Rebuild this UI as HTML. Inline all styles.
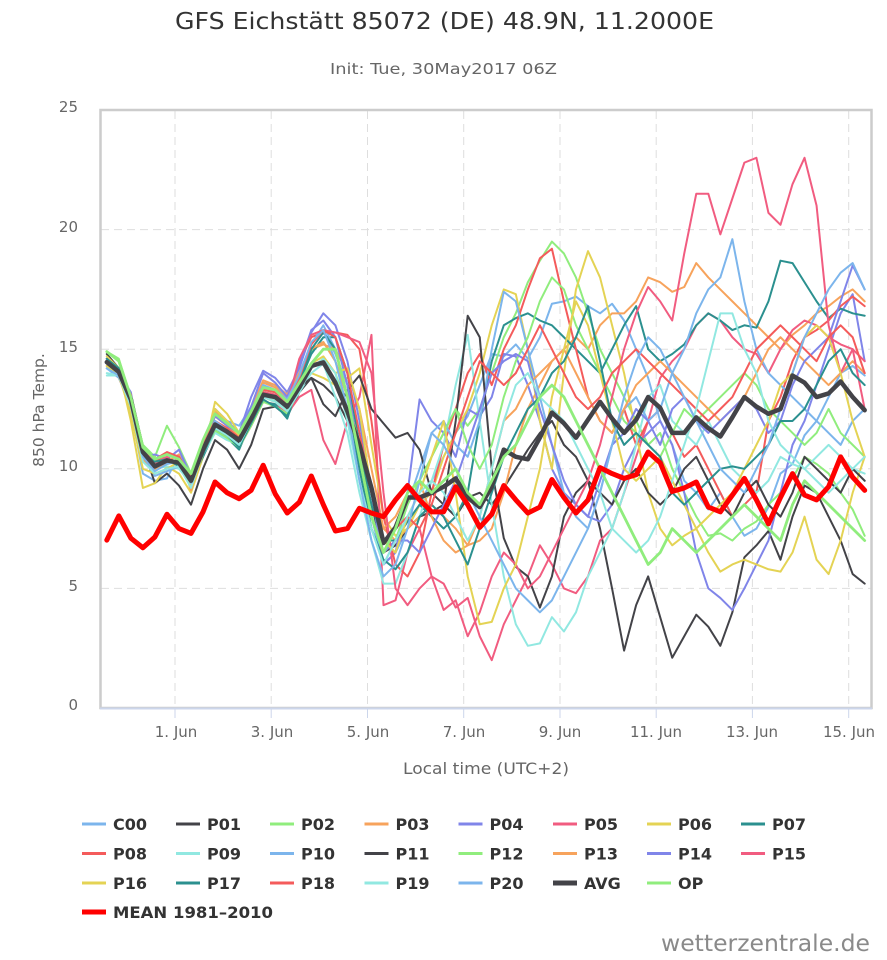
<!DOCTYPE html>
<html><head><meta charset="utf-8">
<style>
html,body{margin:0;padding:0;background:#fff;}
svg{display:block;}
.s polyline{fill:none;vector-effect:non-scaling-stroke;stroke-linejoin:round;stroke-linecap:round;stroke-width:2;}
.t{font-family:"DejaVu Sans","Liberation Sans",sans-serif;}
.lg text{font-family:"DejaVu Sans","Liberation Sans",sans-serif;font-weight:bold;font-size:16px;fill:#333;}
</style></head>
<body>
<svg width="887" height="960" viewBox="0 0 887 960" xmlns="http://www.w3.org/2000/svg">
<rect x="0" y="0" width="887" height="960" fill="#fff"/>
<!-- titles -->
<text class="t" x="444.5" y="29" text-anchor="middle" font-size="23" fill="#333" textLength="539" lengthAdjust="spacingAndGlyphs">GFS Eichstätt 85072 (DE) 48.9N, 11.2000E</text>
<text class="t" x="443.5" y="74" text-anchor="middle" font-size="15" fill="#666" textLength="227" lengthAdjust="spacingAndGlyphs">Init: Tue, 30May2017 06Z</text>

<!-- grid -->
<g stroke="#dedede" stroke-width="1" stroke-dasharray="8,5">
<line x1="101" y1="229.6" x2="871" y2="229.6"/>
<line x1="101" y1="349.2" x2="871" y2="349.2"/>
<line x1="101" y1="468.8" x2="871" y2="468.8"/>
<line x1="101" y1="588.4" x2="871" y2="588.4"/>
<line x1="175" y1="111" x2="175" y2="707"/>
<line x1="271.2" y1="111" x2="271.2" y2="707"/>
<line x1="367.5" y1="111" x2="367.5" y2="707"/>
<line x1="463.7" y1="111" x2="463.7" y2="707"/>
<line x1="560" y1="111" x2="560" y2="707"/>
<line x1="656.2" y1="111" x2="656.2" y2="707"/>
<line x1="752.4" y1="111" x2="752.4" y2="707"/>
<line x1="848.7" y1="111" x2="848.7" y2="707"/>
</g>
<rect x="100.5" y="110" width="771" height="598" fill="none" stroke="#cccccc" stroke-width="2.5"/>
<line x1="100" y1="708.5" x2="872" y2="708.5" stroke="#ccd6eb" stroke-width="2"/>
<g stroke="#ccd6eb" stroke-width="1">
<line x1="175" y1="708" x2="175" y2="718"/>
<line x1="271.2" y1="708" x2="271.2" y2="718"/>
<line x1="367.5" y1="708" x2="367.5" y2="718"/>
<line x1="463.7" y1="708" x2="463.7" y2="718"/>
<line x1="560" y1="708" x2="560" y2="718"/>
<line x1="656.2" y1="708" x2="656.2" y2="718"/>
<line x1="752.4" y1="708" x2="752.4" y2="718"/>
<line x1="848.7" y1="708" x2="848.7" y2="718"/>
</g>

<!-- axis labels -->
<g class="t" font-size="15" fill="#666" text-anchor="end">
<text x="78" y="112">25</text>
<text x="78" y="232">20</text>
<text x="78" y="352">15</text>
<text x="78" y="471">10</text>
<text x="78" y="591">5</text>
<text x="78" y="710">0</text>
</g>
<g class="t" font-size="15" fill="#666" text-anchor="middle">
<text x="176" y="737">1. Jun</text>
<text x="272" y="737">3. Jun</text>
<text x="368" y="737">5. Jun</text>
<text x="464" y="737">7. Jun</text>
<text x="560" y="737">9. Jun</text>
<text x="656" y="737">11. Jun</text>
<text x="752" y="737">13. Jun</text>
<text x="849" y="737">15. Jun</text>
</g>
<text class="t" x="486" y="774" text-anchor="middle" font-size="16" fill="#666" textLength="166" lengthAdjust="spacingAndGlyphs">Local time (UTC+2)</text>
<text class="t" transform="translate(44 410) rotate(-90)" text-anchor="middle" font-size="15.5" fill="#666">850 hPa Temp.</text>

<!-- series -->
<g class="s" transform="translate(106.8 708) scale(12.03 -23.92)">
<polyline stroke="#7cb5ec" points="0,14.2 1,13.9 2,12.5 3,9.8 4,9.5 5,9.6 6,10.6 7,9.8 8,11 9,12.4 10,12 11,11.8 12,12.6 13,13.6 14,13.5 15,13 16,14 17,15.2 18,15.8 19,14.8 20,13.5 21,11 22,8 23,6 24,6.5 25,7.5 26,8.5 27,9.5 28,10.5 29,11.5 30,12.2 31,13.5 32,14.8 33,14.7 34,15.2 35,14.6 36,15.5 37,16.9 38,17 39,17.2 40,16.8 41,16.5 42,16.9 43,16.2 44,15 45,13.8 46,12 47,11 48,9.5 49,9 50,8.3 51,9 52,8 53,7.2 54,7.5 55,8.4 56,9.8 57,10.2 58,11.4 59,12 60,13 61,14 62,14.3 63,13.9"/>
<polyline stroke="#434348" points="0,14.8 1,14.2 2,12.8 3,10.9 4,9.4 5,9.8 6,9.3 7,8.5 8,10 9,11.2 10,10.8 11,10 12,11 13,12.5 14,12.6 15,12.2 16,13.2 17,13.8 18,13.5 19,13 20,12 21,10.5 22,8.5 23,6.5 24,6.8 25,7.5 26,8 27,8.2 28,8.5 29,8 30,8.8 31,9 32,8.5 33,9.2 34,10 35,10.8 36,11.5 37,12 38,11 39,10.5 40,9.5 41,7.5 42,5 43,2.4 44,4.3 45,5.5 46,3.8 47,2.1 48,3 49,3.9 50,3.4 51,2.6 52,4 53,6.3 54,6.8 55,7.4 56,6.2 57,8 58,9.3 59,9 60,8 61,7 62,5.6 63,5.2"/>
<polyline stroke="#90ed7d" points="0,14.9 1,14.6 2,13 3,11 4,10.5 5,11.8 6,10.9 7,9.8 8,11.2 9,12.3 10,11.9 11,11.4 12,12.3 13,13.3 14,13.2 15,12.8 16,13.9 17,14.9 18,15.3 19,14.5 20,13 21,10.5 22,8 23,6.5 24,7 25,8 26,9 27,10.5 28,11.5 29,12.5 30,11.8 31,12.5 32,14 33,15.5 34,16.5 35,17.8 36,18.7 37,19.5 38,19 39,18 40,16.5 41,15 42,14 43,13 44,12 45,11 46,11.5 47,10 48,9 49,8 50,7.2 51,7.3 52,7 53,7.5 54,7.8 55,8.5 56,9 57,9.6 58,10.5 59,10.2 60,9.8 61,9 62,8.3 63,7.2"/>
<polyline stroke="#f7a35c" points="0,14.3 1,13.8 2,12.6 3,10.3 4,10 5,10.2 6,10.4 7,9.2 8,10.9 9,12.2 10,11.8 11,11.3 12,12.4 13,13.6 14,13.4 15,12.9 16,13.8 17,15 18,15.2 19,15 20,14 21,12.5 22,10 23,7.5 24,7 25,7.5 26,8 27,8.5 28,8 29,7.5 30,6.8 31,7 32,7.5 33,9 34,11 35,12.5 36,13.5 37,14.5 38,15 39,15.5 40,15 41,16 42,16.5 43,16.5 44,17 45,18 46,17.8 47,17.4 48,17.6 49,18.6 50,18 51,17.5 52,17 53,16.5 54,16 55,15.5 56,15 57,15.6 58,16 59,16.5 60,16.8 61,17.2 62,17.5 63,17"/>
<polyline stroke="#8085e9" points="0,14.6 1,14 2,13.2 3,10.5 4,10.6 5,10.4 6,10.8 7,9.7 8,11 9,12.5 10,12 11,11.5 12,13 13,14.1 14,13.8 15,13.2 16,14.2 17,15.7 18,16.5 19,16 20,14.5 21,12 22,9 23,6 24,6.5 25,9 26,12.9 27,12 28,11.5 29,10.5 30,12.5 31,12.2 32,13 33,14.8 34,14.7 35,13.5 36,12 37,10 38,9 39,8.5 40,8 41,7.8 42,8.5 43,10 44,11 45,11.5 46,12 47,11 48,9 49,6.5 50,5 51,4.6 52,4.1 53,5 54,6 55,7 56,9 57,11 58,12 59,13.5 60,15 61,16.5 62,17.3 63,14.5"/>
<polyline stroke="#f15c80" points="0,14.4 1,13.9 2,12.7 3,10.6 4,10.2 5,10.5 6,10.1 7,9.3 8,10.6 9,11.7 10,11.3 11,10.9 12,11.8 13,12.8 14,12.7 15,12.3 16,13 17,13.3 18,11.2 19,10.2 20,12 21,13 22,15.6 23,4.3 24,4.5 25,6.5 26,7.5 27,5.5 28,5.2 29,4.2 30,4.6 31,3 32,2 33,3.5 34,4.5 35,5.5 36,6.8 37,6 38,5 39,4.8 40,5.5 41,7 42,7.5 43,9 44,10.5 45,12 46,13.8 47,14.5 48,15 49,16 50,16.5 51,16.2 52,15.5 53,15 54,14.8 55,14 56,15 57,15.8 58,16.2 59,16 60,15.5 61,15.2 62,15 63,14.5"/>
<polyline stroke="#e4d354" points="0,14.7 1,14.2 2,12 3,9.2 4,9.4 5,10.1 6,9.8 7,9 8,10.5 9,12.8 10,12.3 11,11.5 12,12 13,13 14,12.8 15,12.6 16,13.5 17,14 18,13.8 19,13.5 20,13.8 21,14.2 22,11 23,8 24,7.2 25,7.5 26,8.5 27,9 28,10.5 29,11.5 30,12.5 31,14 32,16 33,17.5 34,17.3 35,15 36,12 37,10 38,14 39,17.5 40,19.1 41,18 42,16 43,14 44,11.5 45,9 46,7.5 47,6.8 48,7.2 49,7.5 50,6.5 51,5.7 52,6 53,6.2 54,6 55,5.8 56,5.7 57,6.5 58,8 59,6.2 60,5.6 61,7 62,9 63,10.5"/>
<polyline stroke="#2b908f" points="0,14.5 1,14 2,12.9 3,10.8 4,10.1 5,10.3 6,10.2 7,9.5 8,10.5 9,11.6 10,11.3 11,10.8 12,12 13,12.8 14,12.7 15,12.1 16,13.6 17,14.8 18,15.5 19,15.5 20,14 21,11 22,8.5 23,7 24,7 25,7.8 26,8.5 27,8 28,7.5 29,8 30,9 31,12 32,14.5 33,16 34,16.3 35,16.5 36,16.2 37,16 38,15.5 39,15 40,14.5 41,14 42,15 43,16 44,16.8 45,15 46,14.5 47,14.8 48,15.2 49,16 50,16.5 51,16.2 52,15.8 53,16 54,15.9 55,17 56,18.7 57,18.6 58,17.8 59,17 60,16.3 61,16.7 62,16.5 63,16.4"/>
<polyline stroke="#f45b5b" points="0,14.5 1,14.1 2,13 3,10.9 4,10.3 5,10.6 6,10.4 7,9.6 8,10.9 9,11.9 10,11.6 11,11.3 12,12.2 13,13.2 14,13.1 15,12.7 16,14.5 17,15.5 18,15.7 19,15.7 20,15.6 21,15 22,12 23,8 24,6 25,5.5 26,6.5 27,9 28,11 29,12.5 30,14 31,14.8 32,13.5 33,15 34,16 35,17.5 36,18.8 37,19.2 38,17 39,15 40,13 41,12 42,11.5 43,12.5 44,11 45,12 46,12.5 47,11.5 48,10.5 49,11 50,10 51,9 52,8 53,8.5 54,9 55,12 56,13 57,14.5 58,15.5 59,15.8 60,16.2 61,16.8 62,17.2 63,16.8"/>
<polyline stroke="#91e8e1" points="0,13.9 1,13.9 2,12.9 3,10.5 4,10 5,10.1 6,10 7,9.4 8,10.6 9,11.5 10,11.2 11,11 12,11.9 13,13 14,12.8 15,12.4 16,13.2 17,14 18,14.4 19,13 20,11.5 21,9 22,7 23,5.2 24,5.2 25,6.5 26,8 27,9.5 28,11 29,13.5 30,15.6 31,12 32,8.5 33,5.5 34,3.5 35,2.6 36,2.7 37,3.8 38,3.2 39,4 40,5.5 41,6.5 42,7.5 43,9 44,11 45,13 46,13.5 47,12 48,11.5 49,11 50,12 51,11 52,10 53,9.5 54,9 55,9.5 56,10.5 57,10.2 58,10 59,10.5 60,11 61,10.5 62,10 63,9.8"/>
<polyline stroke="#7cb5ec" points="0,14.2 1,13.8 2,12.7 3,10.5 4,9.7 5,9.9 6,10.1 7,9.3 8,10.7 9,11.8 10,11.5 11,11.1 12,12.3 13,13.4 14,13.2 15,12.8 16,13.8 17,15.2 18,16 19,15 20,13 21,10 22,7.5 23,6 24,7 25,8.5 26,10 27,11.5 28,12 29,11 30,10.5 31,12 32,15 33,17.4 34,17 35,15 36,13 37,11 38,9 39,8 40,7.5 41,9 42,11 43,12.5 44,13 45,12 46,12.5 47,14 48,15 49,16.5 50,17.5 51,18 52,19.6 53,17 54,15 55,14 56,13.5 57,13 58,12.5 59,12 60,11.5 61,11 62,12 63,12.5"/>
<polyline stroke="#434348" points="0,14.6 1,14.1 2,12.9 3,10.7 4,10.1 5,10.4 6,10.3 7,9.5 8,10.8 9,11.9 10,11.5 11,11.1 12,12.1 13,13.1 14,12.9 15,12.5 16,13.4 17,13.8 18,12.7 19,12.2 20,13.3 21,13.9 22,12.5 23,11.9 24,11.3 25,11.5 26,10.8 27,9 28,8.5 29,12 30,16.4 31,15.5 32,10 33,7.1 34,5.9 35,5.5 36,4.2 37,5.5 38,8 39,9 40,9.5 41,9 42,8.5 43,9.5 44,10 45,9 46,8.5 47,9 48,10 49,10.5 50,9.5 51,8.5 52,8 53,9 54,9.5 55,8.5 56,8 57,9 58,10.5 59,10 60,9.5 61,9 62,10 63,9.5"/>
<polyline stroke="#90ed7d" points="0,14.4 1,14.1 2,13 3,10.6 4,10.2 5,10.4 6,10.3 7,9.4 8,10.7 9,11.6 10,11.3 11,10.9 12,11.8 13,12.8 14,12.6 15,12.3 16,13.3 17,14.2 18,14.6 19,14 20,12.5 21,10 22,8 23,6.5 24,7 25,8.5 26,9.5 27,10.5 28,11.5 29,12.5 30,11 31,10 32,11 33,13 34,14.5 35,15.5 36,17 37,18 38,17.5 39,16 40,15 41,14 42,13 43,12 44,11.5 45,11 46,10.5 47,11.5 48,12.5 49,12 50,12.5 51,13 52,13.5 53,14 54,13.5 55,12.5 56,12 57,11.5 58,11 59,11.5 60,12.5 61,11.5 62,11 63,10.5"/>
<polyline stroke="#f7a35c" points="0,14.3 1,13.9 2,12.6 3,10.4 4,10 5,10.3 6,10.6 7,9.1 8,10.9 9,12.4 10,11.9 11,11.4 12,12.5 13,13.7 14,13.5 15,13.1 16,14 17,15 18,15.3 19,14.5 20,13 21,11 22,9 23,7.5 24,8 25,9 26,9.5 27,8 28,7 29,6.5 30,6.8 31,8 32,10 33,12 34,12.5 35,13.5 36,14 37,14.5 38,15 39,14 40,13 41,12 42,11.5 43,12.5 44,13.5 45,14 46,14.5 47,14 48,13.5 49,13 50,12.5 51,12 52,12.5 53,13 54,14 55,15 56,15.5 57,15 58,14.5 59,14 60,13.5 61,14 62,14.5 63,14"/>
<polyline stroke="#8085e9" points="0,14.6 1,14.1 2,13.1 3,10.8 4,10.4 5,10.6 6,10.5 7,9.6 8,11 9,12.2 10,11.8 11,11.5 12,12.6 13,14 14,13.6 15,13 16,14.3 17,15.8 18,16.2 19,15.5 20,13.5 21,10.5 22,8 23,6.5 24,7 25,7 26,6.5 27,7.5 28,8.5 29,9.5 30,11 31,12.5 32,14 33,14.5 34,14.8 35,14.5 36,12.5 37,11 38,9.5 39,8.5 40,8 41,9.5 42,11 43,11.5 44,12.5 45,12 46,11 47,12.5 48,13 49,12 50,11.5 51,12 52,12.5 53,13 54,12.5 55,11.5 56,12 57,13.5 58,14.5 59,15 60,15.5 61,17 62,18.5 63,17.5"/>
<polyline stroke="#f15c80" points="0,14.5 1,14 2,12.8 3,10.6 4,10.2 5,10.4 6,10.2 7,9.4 8,10.9 9,11.8 10,11.5 11,11.2 12,12 13,13.2 14,13.1 15,12.7 16,14.6 17,15.6 18,15.8 19,15.7 20,15.5 21,15.3 22,14 23,9 24,5 25,4.3 26,5 27,5.5 28,4.1 29,4.5 30,3 31,4 32,5.5 33,6.5 34,6 35,5 36,5.5 37,6.5 38,7.5 39,8.5 40,9.5 41,11 42,13 43,15 44,16.5 45,17.6 46,17 47,16.2 48,19 49,21.5 50,21.5 51,19.8 52,21.3 53,22.8 54,23 55,20.7 56,20.2 57,21.9 58,23 59,21 60,16 61,14 62,15 63,12.5"/>
<polyline stroke="#e4d354" points="0,14.3 1,13.9 2,12.3 3,10 4,9.8 5,10 6,10.3 7,9.3 8,10.6 9,12.5 10,12 11,11.4 12,12.2 13,13.1 14,12.9 15,12.4 16,13.4 17,14.4 18,14.7 19,14 20,14.2 21,12.5 22,9 23,7 24,6.5 25,8 26,9 27,10.5 28,12 29,9 30,5.5 31,3.5 32,3.6 33,5 34,6 35,8 36,10 37,13 38,15 39,17 40,16 41,14 42,12 43,10 44,9.5 45,10 46,10.5 47,9.5 48,8.5 49,7.5 50,8 51,8.5 52,9 53,10 54,11 55,12 56,13.5 57,14 58,15.5 59,16 60,15.5 61,14 62,12 63,10.5"/>
<polyline stroke="#2b908f" points="0,14.6 1,14.2 2,13 3,10.9 4,10.3 5,10.4 6,10.1 7,9.6 8,10.6 9,11.7 10,11.4 11,10.9 12,11.9 13,12.9 14,12.6 15,12.2 16,13.6 17,15 18,15.7 19,15 20,13 21,10 22,7.5 23,6.2 24,5.8 25,6.5 26,8 27,8.5 28,8 29,7 30,6 31,7.5 32,9 33,10.5 34,11.5 35,12.5 36,13 37,14 38,14.5 39,15.5 40,16.8 41,14.5 42,12 43,11 44,11.5 45,11 46,10.5 47,9 48,8.5 49,9 50,9.5 51,10 52,10.1 53,10 54,10.5 55,11 56,12 57,12 58,12.5 59,13.5 60,14.5 61,15 62,14 63,13.5"/>
<polyline stroke="#f45b5b" points="0,14.5 1,14 2,13.1 3,10.7 4,10.4 5,10.7 6,10.5 7,9.7 8,11 9,12 10,11.7 11,11.3 12,12.3 13,13.3 14,13.2 15,12.8 16,13.8 17,15.2 18,15.8 19,15.5 20,14 21,11.5 22,9 23,7 24,7.5 25,8 26,7.5 27,8.5 28,10 29,11.5 30,13 31,14.5 32,14 33,13.5 34,14 35,15 36,16 37,15 38,14 39,13 40,12.5 41,13 42,14 43,14.5 44,15 45,14.5 46,14 47,13.5 48,13 49,12.5 50,12 51,12.5 52,13 53,14 54,15 55,15.5 56,16 57,15.5 58,15 59,14.5 60,15.5 61,16 62,15.5 63,14"/>
<polyline stroke="#91e8e1" points="0,14 1,13.9 2,12.6 3,10.3 4,9.8 5,10 6,10.1 7,9.2 8,10.7 9,11.7 10,11.4 11,11 12,12 13,13.1 14,12.9 15,12.4 16,13.2 17,14.2 18,14.6 19,14 20,12 21,9.5 22,7.5 23,6 24,7 25,8 26,9 27,9.5 28,9 29,8 30,7 31,8 32,10 33,12 34,13.5 35,14 36,13 37,12.5 38,12 39,11 40,10 41,9 42,7.5 43,7 44,6.5 45,7 46,8 47,9.5 48,11 49,12.5 50,14.5 51,16.5 52,16.5 53,15 54,14 55,12 56,11 57,10.5 58,10 59,9.5 60,9 61,9.5 62,10 63,10.5"/>
<polyline stroke="#7cb5ec" points="0,14.2 1,13.9 2,12.8 3,10.5 4,9.9 5,10.2 6,10.3 7,9.4 8,10.8 9,12 10,11.6 11,11.2 12,12.4 13,13.5 14,13.3 15,12.9 16,13.9 17,15.3 18,15.8 19,14.5 20,12.5 21,9.5 22,7 23,5.5 24,6 25,7.5 26,9.5 27,11.5 28,11 29,10 30,9 31,8 32,7 33,6 34,5 35,4.5 36,4 37,4.5 38,5.5 39,6.5 40,7.5 41,9 42,11 43,13 44,14.5 45,15.5 46,15 47,14 48,13 49,12 50,11 51,10 52,9.5 53,9 54,10 55,11 56,12.5 57,14 58,15.5 59,16.5 60,17.5 61,18.2 62,18.6 63,17.5"/>
<!-- AVG -->
<polyline stroke="#434348" style="stroke-width:4.5" points="0,14.46 1,14.05 2,12.9 3,10.7 4,10.1 5,10.35 6,10.25 7,9.5 8,10.8 9,11.85 10,11.55 11,11.2 12,12.1 13,13.1 14,13 15,12.6 16,13.4 17,14.3 18,14.45 19,13.6 20,12.4 21,11 22,9.2 23,6.9 24,7.55 25,8.8 26,8.8 27,9 28,9.25 29,9.6 30,8.8 31,8.4 32,9.25 33,10.8 34,10.5 35,10.4 36,11.3 37,12.35 38,11.9 39,11.3 40,12.05 41,12.8 42,12.1 43,11.5 44,12.05 45,13 46,12.55 47,11.5 48,11.5 49,12.15 50,11.7 51,11.35 52,12.15 53,13 54,12.6 55,12.3 56,12.5 57,13.9 58,13.6 59,13 60,13.15 61,13.65 62,13 63,12.45"/>
<!-- OP -->
<polyline stroke="#90ed7d" style="stroke-width:2.8" points="0,14.9 1,14.5 2,13 3,10.9 4,10.4 5,10.6 6,10.4 7,9.8 8,11.2 9,12.3 10,11.9 11,11.5 12,12.4 13,13.4 14,13.3 15,12.8 16,13.6 17,14.4 18,15 19,15 20,13 21,10.5 22,8 23,6.5 24,7.5 25,9 26,9.5 27,9 28,9.5 29,10 30,9 31,8.5 32,9.5 33,10.5 34,11 35,12 36,13 37,13.5 38,13 39,12 40,11 41,10 42,9 43,8 44,7 45,6 46,6.5 47,7.5 48,7 49,6.5 50,7 51,7.5 52,8 53,8.5 54,8 55,7.5 56,7 57,8.5 58,9.5 59,9 60,8.5 61,8 62,7.5 63,7"/>
<!-- MEAN -->
<polyline stroke="#ff0000" style="stroke-width:5" points="0,7.02 1,8.03 2,7.1 3,6.7 4,7.15 5,8.1 6,7.5 7,7.3 8,8.2 9,9.45 10,9 11,8.75 12,9.1 13,10.15 14,8.95 15,8.15 16,8.6 17,9.7 18,8.5 19,7.4 20,7.5 21,8.35 22,8.15 23,8 24,8.7 25,9.3 26,8.7 27,8.2 28,8.2 29,9.25 30,8.5 31,7.55 32,8.1 33,9.3 34,8.7 35,8.15 36,8.4 37,9.55 38,8.8 39,8.15 40,8.7 41,10.05 42,9.8 43,9.6 44,9.75 45,10.7 46,10.25 47,9.05 48,9.2 49,9.45 50,8.4 51,8.2 52,8.9 53,9.6 54,8.7 55,7.7 56,8.8 57,9.8 58,8.9 59,8.7 60,9.25 61,10.5 62,9.65 63,9.1"/>
</g>

<!-- legend -->
<g class="lg">
<g stroke-width="3" stroke-linecap="butt">
<line x1="82" y1="824" x2="106" y2="824" stroke="#7cb5ec"/>
<line x1="176" y1="824" x2="200" y2="824" stroke="#434348"/>
<line x1="270" y1="824" x2="294" y2="824" stroke="#90ed7d"/>
<line x1="364.5" y1="824" x2="388.5" y2="824" stroke="#f7a35c"/>
<line x1="458.5" y1="824" x2="482.5" y2="824" stroke="#8085e9"/>
<line x1="553" y1="824" x2="577" y2="824" stroke="#f15c80"/>
<line x1="647" y1="824" x2="671" y2="824" stroke="#e4d354"/>
<line x1="741" y1="824" x2="765" y2="824" stroke="#2b908f"/>
<line x1="82" y1="853.5" x2="106" y2="853.5" stroke="#f45b5b"/>
<line x1="176" y1="853.5" x2="200" y2="853.5" stroke="#91e8e1"/>
<line x1="270" y1="853.5" x2="294" y2="853.5" stroke="#7cb5ec"/>
<line x1="364.5" y1="853.5" x2="388.5" y2="853.5" stroke="#434348"/>
<line x1="458.5" y1="853.5" x2="482.5" y2="853.5" stroke="#90ed7d"/>
<line x1="553" y1="853.5" x2="577" y2="853.5" stroke="#f7a35c"/>
<line x1="647" y1="853.5" x2="671" y2="853.5" stroke="#8085e9"/>
<line x1="741" y1="853.5" x2="765" y2="853.5" stroke="#f15c80"/>
<line x1="82" y1="883" x2="106" y2="883" stroke="#e4d354"/>
<line x1="176" y1="883" x2="200" y2="883" stroke="#2b908f"/>
<line x1="270" y1="883" x2="294" y2="883" stroke="#f45b5b"/>
<line x1="364.5" y1="883" x2="388.5" y2="883" stroke="#91e8e1"/>
<line x1="458.5" y1="883" x2="482.5" y2="883" stroke="#7cb5ec"/>
<line x1="553" y1="883" x2="577" y2="883" stroke="#434348" stroke-width="5"/>
<line x1="647" y1="883" x2="671" y2="883" stroke="#90ed7d"/>
<line x1="82" y1="912" x2="106" y2="912" stroke="#ff0000" stroke-width="5"/>
</g>
<text x="113" y="830">C00</text>
<text x="207" y="830">P01</text>
<text x="301" y="830">P02</text>
<text x="395.5" y="830">P03</text>
<text x="489.5" y="830">P04</text>
<text x="584" y="830">P05</text>
<text x="678" y="830">P06</text>
<text x="772" y="830">P07</text>
<text x="113" y="859.5">P08</text>
<text x="207" y="859.5">P09</text>
<text x="301" y="859.5">P10</text>
<text x="395.5" y="859.5">P11</text>
<text x="489.5" y="859.5">P12</text>
<text x="584" y="859.5">P13</text>
<text x="678" y="859.5">P14</text>
<text x="772" y="859.5">P15</text>
<text x="113" y="889">P16</text>
<text x="207" y="889">P17</text>
<text x="301" y="889">P18</text>
<text x="395.5" y="889">P19</text>
<text x="489.5" y="889">P20</text>
<text x="584" y="889">AVG</text>
<text x="678" y="889">OP</text>
<text x="113" y="918" textLength="160" lengthAdjust="spacingAndGlyphs">MEAN 1981–2010</text>
</g>

<text class="t" x="870" y="951" text-anchor="end" font-size="23" fill="#8a8a8a" textLength="209" lengthAdjust="spacingAndGlyphs">wetterzentrale.de</text>
</svg>
</body></html>
